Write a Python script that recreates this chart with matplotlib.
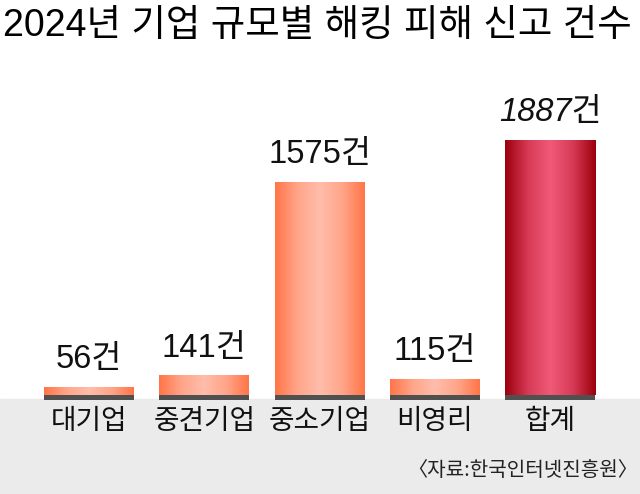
import numpy as np
import matplotlib.pyplot as plt
from matplotlib.colors import LinearSegmentedColormap

plt.rcParams['font.family'] = ['Noto Sans CJK KR', 'DejaVu Sans']
num_fonts = ['Liberation Sans', 'Noto Sans CJK KR']

# 데이터
categories = ['대기업', '중견기업', '중소기업', '비영리', '합계']
values = [56, 141, 1575, 115, 1887]
is_total = [False, False, False, False, True]

title = '2024년 기업 규모별 해킹 피해 신고 건수'
source = '〈자료:한국인터넷진흥원〉'

W, H = 640, 494
fig = plt.figure(figsize=(W / 100, H / 100), dpi=100)
ax = fig.add_axes([0, 0, 1, 1])

# 픽셀 -> 데이터 환산 (기준선은 아래에서 99px)
base_px = 99
s = 255 / max(values)  # px per unit
step = 115.25
ax.axis('off')

# 아래 회색 띠
ax.axhspan(-base_px / s, -4 / s, color='#ebebeb', zorder=0)

orange = LinearSegmentedColormap.from_list('o', ['#ff7548', '#ffa589', '#ffbdab', '#ffa589', '#ff7548'])
red = LinearSegmentedColormap.from_list('r', ['#9c000c', '#d63a55', '#f05a78', '#d63a55', '#9c000c'])
grad = np.linspace(0, 1, 256).reshape(1, -1)

x = np.arange(len(categories))
bw = 90 / step
bars = ax.bar(x, values, width=bw, color='none', zorder=2)
ax.bar(x, -5 / s, width=bw, color='#505050', zorder=3)

for rect, v, tot, cat in zip(bars, values, is_total, categories):
    x0, w, h = rect.get_x(), rect.get_width(), rect.get_height()
    ax.imshow(grad, cmap=red if tot else orange, aspect='auto',
              extent=(x0, x0 + w, 0, h), zorder=2, interpolation='bicubic')
    style = 'italic' if tot else 'normal'
    ax.text(x0 + w / 2, h + 12 / s, f'{v}건', ha='center', va='bottom',
            fontsize=23.5, style=style, color='#111111', family=num_fonts)
    ax.text(x0 + w / 2, -26 / s, cat, ha='center', va='center',
            fontsize=20, style=style, color='#111111')

ax.set_xlim(-89 / step, (W - 89) / step)
ax.set_ylim(-base_px / s, (H - base_px) / s)

fig.text(3 / W, 1 - 26 / H, title, ha='left', va='center', fontsize=27,
         fontweight='medium', color='#000000',
         family=['Liberation Sans', 'Noto Sans CJK KR'])
fig.text(638 / W, 1 - 470 / H, source, ha='right', va='center', fontsize=14.5,
         color='#222222')

fig.savefig('out.png', dpi=100)
